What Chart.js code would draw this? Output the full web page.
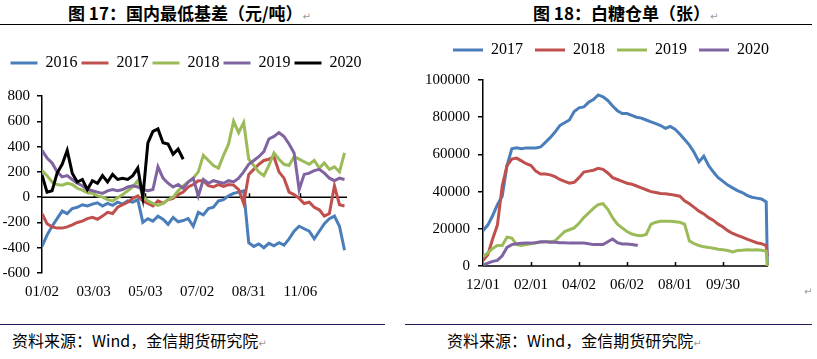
<!DOCTYPE html>
<html>
<head>
<meta charset="utf-8">
<script src="https://cdn.jsdelivr.net/npm/chart.js@4.4.1/dist/chart.umd.min.js"></script>
<style>
  body { margin: 0; background: #fff; width: 817px; height: 359px; position: relative; overflow: hidden;
         font-family: "Noto Sans CJK SC", sans-serif; color: #000; }
  .title { position: absolute; top: 3px; font-weight: 700; font-size: 17px; line-height: 20px; white-space: nowrap; }
  .rule { position: absolute; height: 0; }
  .src { position: absolute; top: 331px; font-size: 16px; line-height: 18px; white-space: nowrap; }
  .mark { color: #999; font-size: 10px; font-weight: 400; font-family: "DejaVu Sans", sans-serif; }
  .box { position: absolute; }
</style>
</head>
<body>
<div class="title" style="left:68px">图 17：国内最低基差（元/吨）<span class="mark">↵</span></div>
<div class="title" style="left:533px">图 18：白糖仓单（张）<span class="mark">↵</span></div>
<div class="rule" style="left:0;top:24px;width:812px;border-top:1.5px solid #000"></div>

<div class="box" style="left:0;top:30px;width:372px;height:285px"><canvas id="basis"></canvas></div>
<div class="box" style="left:400px;top:20px;width:422px;height:295px"><canvas id="warrant"></canvas></div>

<div class="rule" style="left:0;top:324px;width:385px;border-top:1.5px solid #1c1c58"></div>
<div class="rule" style="left:405px;top:324px;width:407px;border-top:1.5px solid #1c1c58"></div>
<div class="src" style="left:12px">资料来源：Wind，金信期货研究院<span class="mark">↵</span></div>
<div class="src" style="left:447px">资料来源：Wind，金信期货研究院<span class="mark">↵</span></div>
<div class="mark" style="position:absolute;left:804px;top:286px">↵</div>

<script>
// ---- figure 17: minimum domestic basis (yuan/ton), one reading every 4 trading days
const basisYears = ['2016', '2017', '2018', '2019', '2020'];
const basisTickDays = [0, 41, 82, 123, 164, 205];
const basisTickLabels = ['01/02', '03/03', '05/03', '07/02', '08/31', '11/06'];
const basisLastDay = 242;

const basis2016 = [-390, -300, -230, -170, -110, -130, -90, -80, -60, -70, -55, -45, -70, -50, -65, -40, -55, -30, -40, -20,
  -200, -170, -190, -150, -175, -215, -160, -195, -185, -170, -230, -120, -140, -90, -80, -30, -20, 10, 30, 40,
  50, -360, -390, -370, -400, -365, -385, -360, -380, -330, -270, -230, -250, -270, -330, -270, -210, -170, -150, -230, -420];
const basis2017 = [-130, -210, -235, -245, -245, -235, -220, -200, -190, -170, -160, -175, -150, -120, -130, -80, -60, -40, -10, 10,
  -30, -50, -70, -30, -50, -20, -10, 20, 40, 80, 100, 130, 130, 90, 80, 100, 85, 100, 95, 60,
  -50, 180, 220, 260, 290, 300, 320, 200, 150, 40, 20, -10, -50, -40, -80, -100, -150, -130, 90, -60, -70];
const basis2018 = [210, 170, 120, 100, 95, 110, 100, 70, 55, 35, 30, 10, 0, -20, -30, -5, 20, 50, 80, 130,
  10, -30, -50, -65, -50, -20, 0, 50, 90, 120, 150, 200, 330, 290, 250, 230, 330, 420, 600, 510,
  590, 300, 250, 200, 170, 250, 350, 300, 260, 250, 320, 300, 280, 260, 290, 230, 270, 220, 240, 200, 350];
const basis2019 = [370, 310, 270, 200, 160, 170, 140, 110, 90, 60, 50, 40, 30, 50, 60, 50, 60, 80, 90, 80,
  60, 50, 60, 240, 150, 110, 80, 100, 70, 120, 150, 10, 140, 110, 130, 120, 110, 130, 120, 150,
  200, 260, 290, 320, 360, 460, 480, 510, 480, 420, 350, 60, 180, 190, 210, 220, 190, 150, 130, 150, 140];
const basis2020 = [175, 40, 50, 190, 260, 370, 190, 120, 140, 60, 130, 110, 170, 120, 180, 140, 150, 140, 170, 230,
  0, 430, 520, 540, 430, 420, 340, 380, 300];

// ---- figure 18: sugar warehouse receipts (lots), one reading every 4 trading days, last one a day later
const warrantYears = ['2017', '2018', '2019', '2020'];
const warrantTickDays = [0, 40, 80, 120, 160, 200];
const warrantTickLabels = ['12/01', '02/01', '04/02', '06/02', '08/01', '09/30'];
const warrantLastDay = 237.5;

const warrant2017 = [19000, 22000, 27000, 33000, 37500, 54000, 63000, 63500, 63000, 63500, 63500, 63500, 64000, 66500, 69000,
  72000, 75500, 77000, 78500, 83000, 85000, 85500, 88000, 89500, 92000, 91000, 89000, 86000, 83500, 82000,
  82000, 81000, 80000, 79500, 78500, 77500, 76500, 75500, 74000, 75000, 73500, 71000, 68000, 65000, 61000,
  56000, 59000, 54000, 50500, 47500, 45500, 43500, 42000, 40500, 39500, 38000, 37000, 36500, 36000, 34500, 0];
const warrant2018 = [3000, 6000, 14500, 22000, 43000, 54000, 57500, 58000, 56500, 55000, 54000, 51000, 49500, 49500, 49000,
  48000, 46500, 45500, 44500, 45000, 47500, 50500, 51000, 51500, 52500, 52000, 50000, 47500, 46500, 45500,
  44500, 44000, 43000, 42000, 41000, 40000, 39500, 39000, 38800, 38500, 38000, 37500, 35000, 33500, 31500,
  29500, 28000, 26000, 24500, 22500, 21000, 19000, 17500, 16500, 15500, 14500, 13500, 12500, 12000, 11000, 5000];
const warrant2019 = [5000, 7000, 9500, 11000, 11000, 15500, 15000, 11500, 11000, 11500, 12000, 12500, 12800, 13000, 13000,
  13500, 16000, 18500, 19500, 20500, 23000, 26000, 28500, 31000, 33000, 33500, 30500, 26000, 22500, 20500,
  18500, 17200, 16500, 16300, 17000, 22500, 23500, 24000, 24000, 24000, 23800, 23500, 22500, 13500, 12000,
  11000, 10300, 10000, 9500, 9000, 8700, 8300, 7600, 8300, 8500, 8700, 8600, 8700, 8500, 8000, 0];
const warrant2020 = [500, 1500, 2500, 3000, 5500, 10000, 11500, 12000, 12200, 12300, 12300, 12500, 13000, 13000, 12800,
  12800, 12500, 12500, 12300, 12300, 12300, 12300, 12000, 11500, 11500, 11500, 13000, 14500, 12500, 11800,
  11800, 11500, 11200, 11000];

const basisColors = ['#4a7ebb', '#c0504d', '#9bbb59', '#8064a2', '#000000'];
const warrantColors = ['#4a7ebb', '#c0504d', '#9bbb59', '#8064a2'];

const STEP = 4;
const toPoints = (vals, lastGap) => vals.map((v, i) => ({
  x: (lastGap && i === vals.length - 1) ? (i - 1) * STEP + lastGap : i * STEP,
  y: v
}));

Chart.defaults.color = '#000';
Chart.defaults.font.family = 'Liberation Serif';
const axisFont = { family: 'Liberation Serif', size: 15 };

// fixed legend height so the plot area lands where it should
const legendHeight = h => ({
  id: 'legendHeight',
  beforeInit(chart) {
    const fit = chart.legend.fit;
    chart.legend.fit = function () { fit.call(this); this.height = h; };
  }
});

// horizontal axis line at y = 0, only as long as the years run, with small inner ticks
const zeroAxis = (lastDay, tickDays) => ({
  id: 'zeroAxis',
  beforeDatasetsDraw(chart) {
    const { ctx, scales: { x, y } } = chart;
    const py = y.getPixelForValue(0);
    ctx.save();
    ctx.strokeStyle = '#000';
    ctx.lineWidth = 1.5;
    ctx.beginPath();
    ctx.moveTo(x.getPixelForValue(0), py);
    ctx.lineTo(x.getPixelForValue(lastDay), py);
    tickDays.slice(1).forEach(d => {
      const px = Math.round(x.getPixelForValue(d)) + 0.5;
      ctx.moveTo(px, py);
      ctx.lineTo(px, py - 4);
    });
    ctx.stroke();
    ctx.restore();
  }
});

const lineSets = (series, years, colors, lastGap) => series.map((vals, i) => ({
  label: years[i],
  data: toPoints(vals, lastGap),
  borderColor: colors[i],
  backgroundColor: colors[i],
  borderWidth: 3,
  pointRadius: 0,
  order: years.length - i
}));

const legendOpts = (pad, w) => ({
  labels: {
    usePointStyle: true, pointStyle: 'line', pointStyleWidth: w,
    padding: pad, font: { size: 16 },
    sort: (a, b) => a.datasetIndex - b.datasetIndex
  }
});

new Chart(document.getElementById('basis'), {
  type: 'line',
  data: { datasets: lineSets([basis2016, basis2017, basis2018, basis2019, basis2020], basisYears, basisColors) },
  options: {
    responsive: true, maintainAspectRatio: false, animation: false,
    layout: { padding: { top: 21, right: 0, bottom: 4, left: 0 } },
    plugins: { legend: legendOpts(4, 27), tooltip: { enabled: false } },
    scales: {
      x: {
        type: 'linear', min: 0, max: 261.8,
        afterBuildTicks: s => { s.ticks = basisTickDays.map(v => ({ value: v })); },
        ticks: { autoSkip: false, maxRotation: 0, padding: 10, font: axisFont, callback: (v, i) => basisTickLabels[i] },
        grid: { display: false, drawTicks: false },
        border: { display: false }
      },
      y: {
        min: -600, max: 800,
        afterFit: s => { s.width = 42; },
        ticks: { stepSize: 200, padding: 7, font: axisFont },
        grid: { drawOnChartArea: false, tickColor: '#000', tickLength: 5, lineWidth: 1.5 },
        border: { color: '#000', width: 1.5 }
      }
    }
  },
  plugins: [legendHeight(45), zeroAxis(basisLastDay, basisTickDays)]
});

new Chart(document.getElementById('warrant'), {
  type: 'line',
  data: { datasets: lineSets([warrant2017, warrant2018, warrant2019, warrant2020], warrantYears, warrantColors, 1) },
  options: {
    responsive: true, maintainAspectRatio: false, animation: false,
    layout: { padding: { top: 10, right: 0, bottom: 11, left: 0 } },
    plugins: { legend: legendOpts(12, 30), tooltip: { enabled: false } },
    scales: {
      x: {
        type: 'linear', min: 0, max: 282.5,
        afterBuildTicks: s => { s.ticks = warrantTickDays.map(v => ({ value: v })); },
        ticks: { autoSkip: false, maxRotation: 0, padding: 10, font: axisFont, callback: (v, i) => warrantTickLabels[i] },
        grid: { display: false, drawTicks: false },
        border: { display: false }
      },
      y: {
        min: 0, max: 100000,
        afterFit: s => { s.width = 83; },
        ticks: { stepSize: 20000, padding: 8, font: axisFont, callback: v => String(v) },
        grid: { drawOnChartArea: false, tickColor: '#000', tickLength: 5, lineWidth: 1.5 },
        border: { color: '#000', width: 1.5 }
      }
    }
  },
  plugins: [legendHeight(50), zeroAxis(warrantLastDay, warrantTickDays)]
});
</script>
</body>
</html>
